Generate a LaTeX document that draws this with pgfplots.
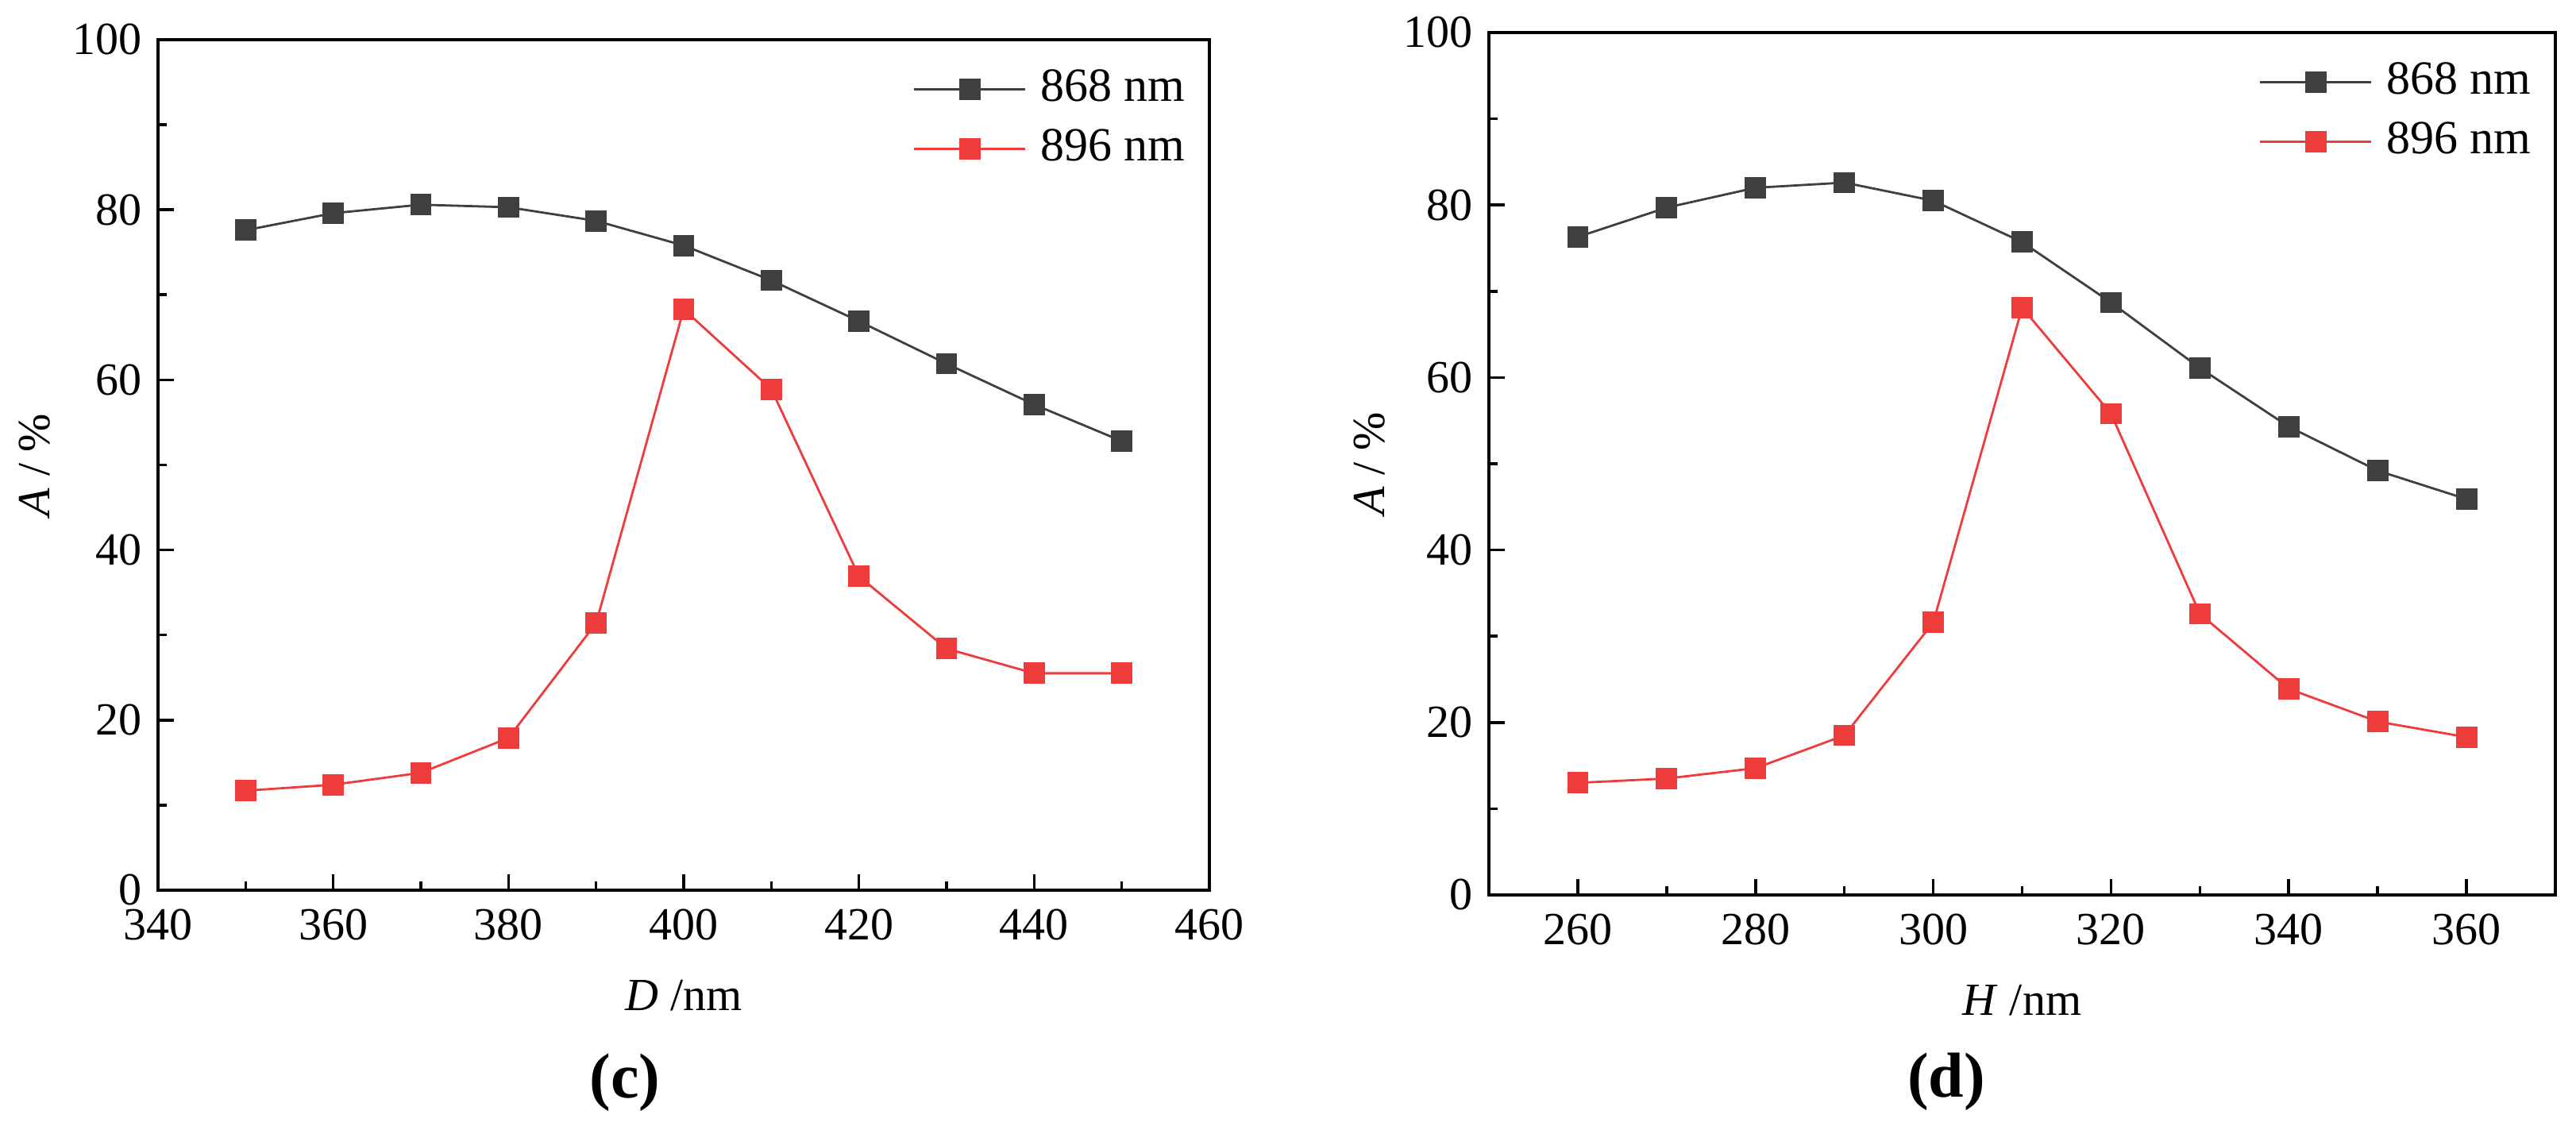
\documentclass[border=0pt]{standalone}
\usepackage{fontspec}
\setmainfont{Liberation Serif}
\usepackage{pgfplots}
\pgfplotsset{compat=1.18}
\definecolor{cblack}{HTML}{3F3F3F}
\definecolor{cred}{HTML}{EE3B3B}

\pgfplotsset{
 myaxis/.style={
  scale only axis,
  axis line style={line width=0.9pt},
  tick style={line width=0.9pt, black},
  tick align=inside,
  xtick pos=bottom, ytick pos=left,
  major tick length=5pt, minor tick length=2.7pt,
  minor x tick num=1, minor y tick num=1,
  ymin=0, ymax=100, ytick={0,20,...,100},
  tick label style={font=\fontsize{14.5}{16.5}\selectfont},
  /pgf/number format/assume math mode=true,
  /pgf/number format/1000 sep={},
  yticklabel style={xshift=-1.6pt},
  xticklabel style={yshift=-2.5pt},
  label style={font=\fontsize{14.5}{16.5}\selectfont},
  xlabel style={at={(axis description cs:0.5,0)}, anchor=base, yshift=-38pt},
  legend style={draw=none, fill=none, at={(1,1)}, anchor=north east,
     xshift=-5.5pt, yshift=-6.75pt, inner sep=0pt,
     font=\fontsize{15}{17}\selectfont,
     nodes={inner sep=2pt, text height=10.5pt, text depth=3pt}, row sep=1.25pt,
     column sep=2.5pt},
  legend cell align=left,
  legend image code/.code={\draw[mark repeat=2,mark phase=2,##1] plot coordinates {(0pt,0pt) (17.5pt,0pt) (35pt,0pt)};},
 },
 blk/.style={color=cblack, line width=0.7pt, mark=square*, mark size=3pt, mark options={solid}},
 rd/.style={color=cred, line width=0.7pt, mark=square*, mark size=3pt, mark options={solid}},
}

\begin{document}
\begin{tikzpicture}
\useasboundingbox (0,0) rectangle (811pt,355.75pt);

\begin{axis}[myaxis,
  at={(49.75pt,75.5pt)}, anchor=south west,
  width=331pt, height=267.75pt,
  xmin=340, xmax=460, xtick={340,360,...,460},
  xlabel={\textit{D} /nm},
  ylabel={\textit{A} / \%},
  ylabel style={at={(axis description cs:-0.117,0.5)}, anchor=center},
]
\addplot[blk] coordinates {
(350,77.6) (360,79.6) (370,80.6) (380,80.3) (390,78.7) (400,75.8)
(410,71.7) (420,66.9) (430,61.9) (440,57.1) (450,52.8)};
\addlegendentry{868 nm}
\addplot[rd] coordinates {
(350,11.7) (360,12.4) (370,13.8) (380,17.9) (390,31.4) (400,68.3)
(410,58.9) (420,36.9) (430,28.4) (440,25.5) (450,25.5)};
\addlegendentry{896 nm}
\end{axis}

\begin{axis}[myaxis,
  at={(468.75pt,74pt)}, anchor=south west,
  width=335.75pt, height=271.5pt,
  xmin=250, xmax=370, xtick={260,280,...,360},
  xlabel={\textit{H} /nm},
  ylabel={\textit{A} / \%},
  ylabel style={at={(axis description cs:-0.112,0.5)}, anchor=center},
]
\addplot[blk] coordinates {
(260,76.3) (270,79.7) (280,82.0) (290,82.6) (300,80.5) (310,75.7)
(320,68.7) (330,61.1) (340,54.3) (350,49.2) (360,45.9)};
\addlegendentry{868 nm}
\addplot[rd] coordinates {
(260,13.0) (270,13.5) (280,14.7) (290,18.5) (300,31.6) (310,68.1)
(320,55.8) (330,32.6) (340,23.9) (350,20.1) (360,18.3)};
\addlegendentry{896 nm}
\end{axis}

\node[anchor=base] at (196.75pt,10pt) {\fontsize{20}{24}\selectfont\bfseries (c)};
\node[anchor=base] at (612.75pt,10.25pt) {\fontsize{20}{24}\selectfont\bfseries (d)};
\end{tikzpicture}
\end{document}
